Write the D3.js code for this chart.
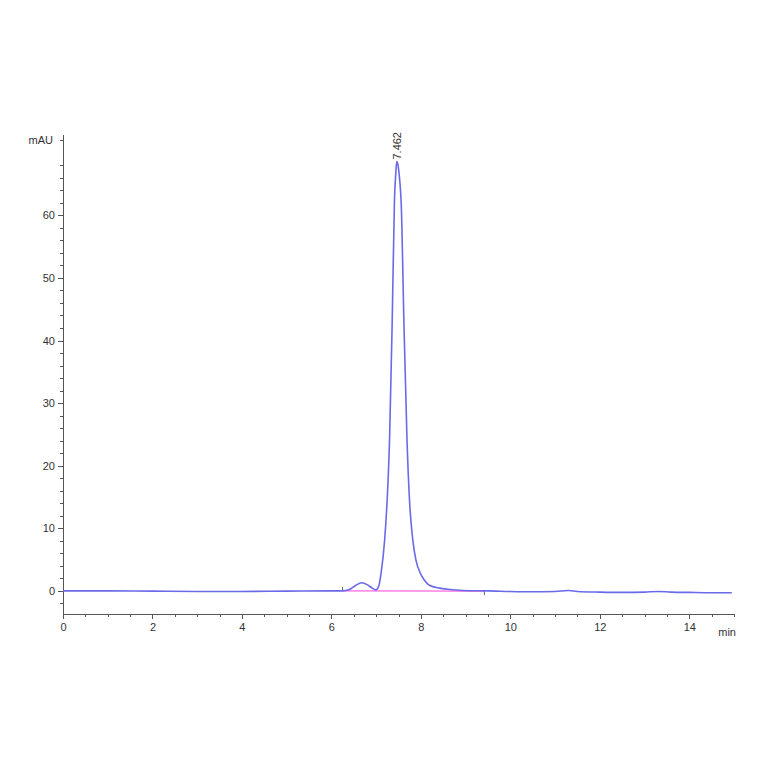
<!DOCTYPE html>
<meta charset="utf-8">
<style>
html,body { margin:0; padding:0; background:#fff; overflow:hidden; }
svg text { font-family: "Liberation Sans", Arial, sans-serif; }
.axis path, .axis line { stroke:#555; fill:none; shape-rendering:crispEdges; }
.axis text { fill:#333; font-size:11px; }
</style>
<body>
<svg></svg>
<script src="https://cdn.jsdelivr.net/npm/d3@7"></script>
<script>
// chromatogram trace (min, mAU)
var times = [0, 1, 2, 3, 4, 5, 6, 6.25, 6.4, 6.55, 6.67, 6.8, 6.92, 7.0, 7.06, 7.11, 7.19, 7.25, 7.30, 7.36, 7.41, 7.44, 7.462, 7.49, 7.52, 7.54, 7.56, 7.62, 7.69, 7.75, 7.82, 7.89, 8.01, 8.08, 8.19, 8.42, 8.6, 8.86, 9.2, 9.5, 10, 10.5, 11, 11.3, 11.5, 12, 12.5, 13, 13.3, 13.6, 14, 14.5, 14.95];
var mAU   = [0, 0, -0.05, -0.1, -0.1, -0.05, 0, 0, 0.2, 0.9, 1.3, 1.0, 0.4, 0.15, 0.8, 2.8, 8.1, 15, 24.1, 43.3, 62.5, 66.8, 68.6, 68.0, 66.2, 64.5, 62.0, 43.3, 24.1, 14, 8.1, 4.9, 2.5, 1.7, 0.9, 0.43, 0.25, 0.1, 0.02, 0, -0.1, -0.15, -0.1, 0.05, -0.1, -0.2, -0.25, -0.2, -0.1, -0.2, -0.25, -0.3, -0.3];
// integration baseline of the peak
var baseT = [6.25, 9.42];
var baseV = [0, -0.05];
var peakTime = 7.462, peakHeight = 68.6;
var xMajor = [0, 2, 4, 6, 8, 10, 12, 14];
var yMajor = [0, 10, 20, 30, 40, 50, 60];

var W = 764, H = 764;
var svg = d3.select("svg").attr("width", W).attr("height", H);

var x = d3.scaleLinear().domain([0, 15]).range([63, 734]);
var y = d3.scaleLinear().domain([-3.7, 73]).range([614, 134]);

// minor ticks
var xMinor = d3.range(0, 15.01, 0.5).filter(function(d){ return d % 2 !== 0; });
var yMinor = d3.range(-2, 73, 2).filter(function(d){ return d % 10 !== 0; });

svg.append("g").attr("class", "axis")
  .attr("transform", "translate(0," + y.range()[0] + ")")
  .call(d3.axisBottom(x).tickValues(xMinor).tickSize(3).tickSizeOuter(0).tickFormat(""));
svg.append("g").attr("class", "axis")
  .attr("transform", "translate(0," + y.range()[0] + ")")
  .call(d3.axisBottom(x).tickValues(xMajor).tickSize(5).tickSizeOuter(0).tickPadding(4).tickFormat(d3.format("d")));

svg.append("g").attr("class", "axis")
  .attr("transform", "translate(" + x.range()[0] + ",0)")
  .call(d3.axisLeft(y).tickValues(yMinor).tickSize(3).tickSizeOuter(0).tickFormat(""));
svg.append("g").attr("class", "axis")
  .attr("transform", "translate(" + x.range()[0] + ",0)")
  .call(d3.axisLeft(y).tickValues(yMajor).tickSize(5).tickSizeOuter(0).tickPadding(3).tickFormat(d3.format("d")));

svg.append("text").attr("x", 53).attr("y", 144).attr("text-anchor", "end")
  .attr("font-size", 11).attr("fill", "#333").text("mAU");
svg.append("text").attr("x", 736).attr("y", 636).attr("text-anchor", "end")
  .attr("font-size", 11).attr("fill", "#333").text("min");

// baseline
svg.append("line")
  .attr("x1", x(baseT[0])).attr("y1", y(baseV[0]))
  .attr("x2", x(baseT[1])).attr("y2", y(baseV[1]))
  .attr("stroke", "#ff66dd").attr("stroke-width", 1.2);
svg.append("line")
  .attr("x1", x(baseT[0])).attr("x2", x(baseT[0]))
  .attr("y1", y(baseV[0]) - 4).attr("y2", y(baseV[0]))
  .attr("stroke", "#666").attr("stroke-width", 1);
svg.append("line")
  .attr("x1", x(baseT[1])).attr("x2", x(baseT[1]))
  .attr("y1", y(baseV[1])).attr("y2", y(baseV[1]) + 4)
  .attr("stroke", "#666").attr("stroke-width", 1);

var line = d3.line()
  .x(function(d, i){ return x(times[i]); })
  .y(function(d){ return y(d); })
  .curve(d3.curveMonotoneX);

svg.append("path").datum(mAU)
  .attr("d", line)
  .attr("fill", "none")
  .attr("stroke", "#6a6ae8")
  .attr("stroke-width", 1.6);

// retention time label
svg.append("text")
  .attr("transform", "translate(" + (x(peakTime) + 4) + "," + (y(peakHeight) - 2) + ") rotate(-90)")
  .attr("font-size", 11).attr("fill", "#333")
  .text(peakTime.toFixed(3));
</script>
</body>
